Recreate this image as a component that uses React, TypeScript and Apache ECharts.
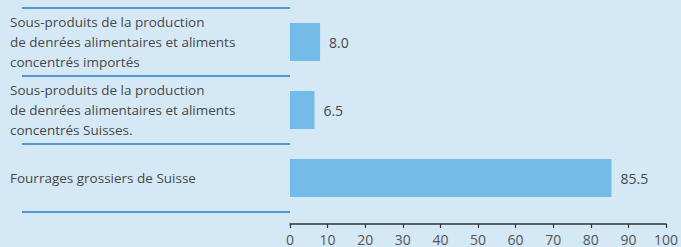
import React, { useEffect, useRef } from "react";
import * as echarts from "echarts";

const categories = [
  "Sous-produits de la production\nde denrées alimentaires et aliments\nconcentrés importés",
  "Sous-produits de la production\nde denrées alimentaires et aliments\nconcentrés Suisses.",
  "Fourrages grossiers de Suisse",
];
const values = [8.0, 6.5, 85.5];
const xTicks = [0, 10, 20, 30, 40, 50, 60, 70, 80, 90, 100];

export default function App() {
  const ref = useRef<HTMLDivElement>(null);
  useEffect(() => {
    if (!ref.current) return;
    const chart = echarts.init(ref.current, null, { renderer: "svg" });
    const font = "'Open Sans', 'Noto Sans', sans-serif";
    chart.setOption({
      animation: false,
      backgroundColor: "#d4e8f6",
      textStyle: { fontFamily: font },
      grid: { left: 290, right: 14, top: 8, bottom: 35, containLabel: false },
      xAxis: {
        type: "value",
        min: xTicks[0],
        max: xTicks[xTicks.length - 1],
        interval: 10,
        offset: 12,
        axisLine: { show: true, lineStyle: { color: "#333", width: 1.5 } },
        axisTick: { show: true, length: 4, lineStyle: { color: "#333", width: 1.2 } },
        axisLabel: {
          color: "#555",
          fontSize: 14,
          lineHeight: 14,
          margin: 8,
          fontFamily: font,
        },
        splitLine: { show: false },
      },
      yAxis: {
        type: "category",
        data: categories,
        inverse: true,
        offset: 12,
        axisLine: { show: false },
        axisTick: {
          show: true,
          interval: 0,
          length: 268,
          lineStyle: { color: "#2a7ac2", width: 1.6 },
        },
        axisLabel: {
          align: "left",
          margin: 268,
          color: "#484848",
          fontSize: 13.5,
          lineHeight: 20,
          fontFamily: font,
        },
      },
      series: [
        {
          type: "bar",
          data: values,
          barWidth: 38,
          itemStyle: { color: "#74bce8" },
          label: {
            show: true,
            position: "right",
            distance: 9,
            color: "#484848",
            fontSize: 14,
            fontFamily: font,
            formatter: (p: any) => Number(p.value).toFixed(1),
          },
        },
      ],
    });
    return () => chart.dispose();
  }, []);
  return (
    <div
      ref={ref}
      style={{ position: "fixed", left: 0, top: 0, width: 681, height: 247 }}
    />
  );
}
